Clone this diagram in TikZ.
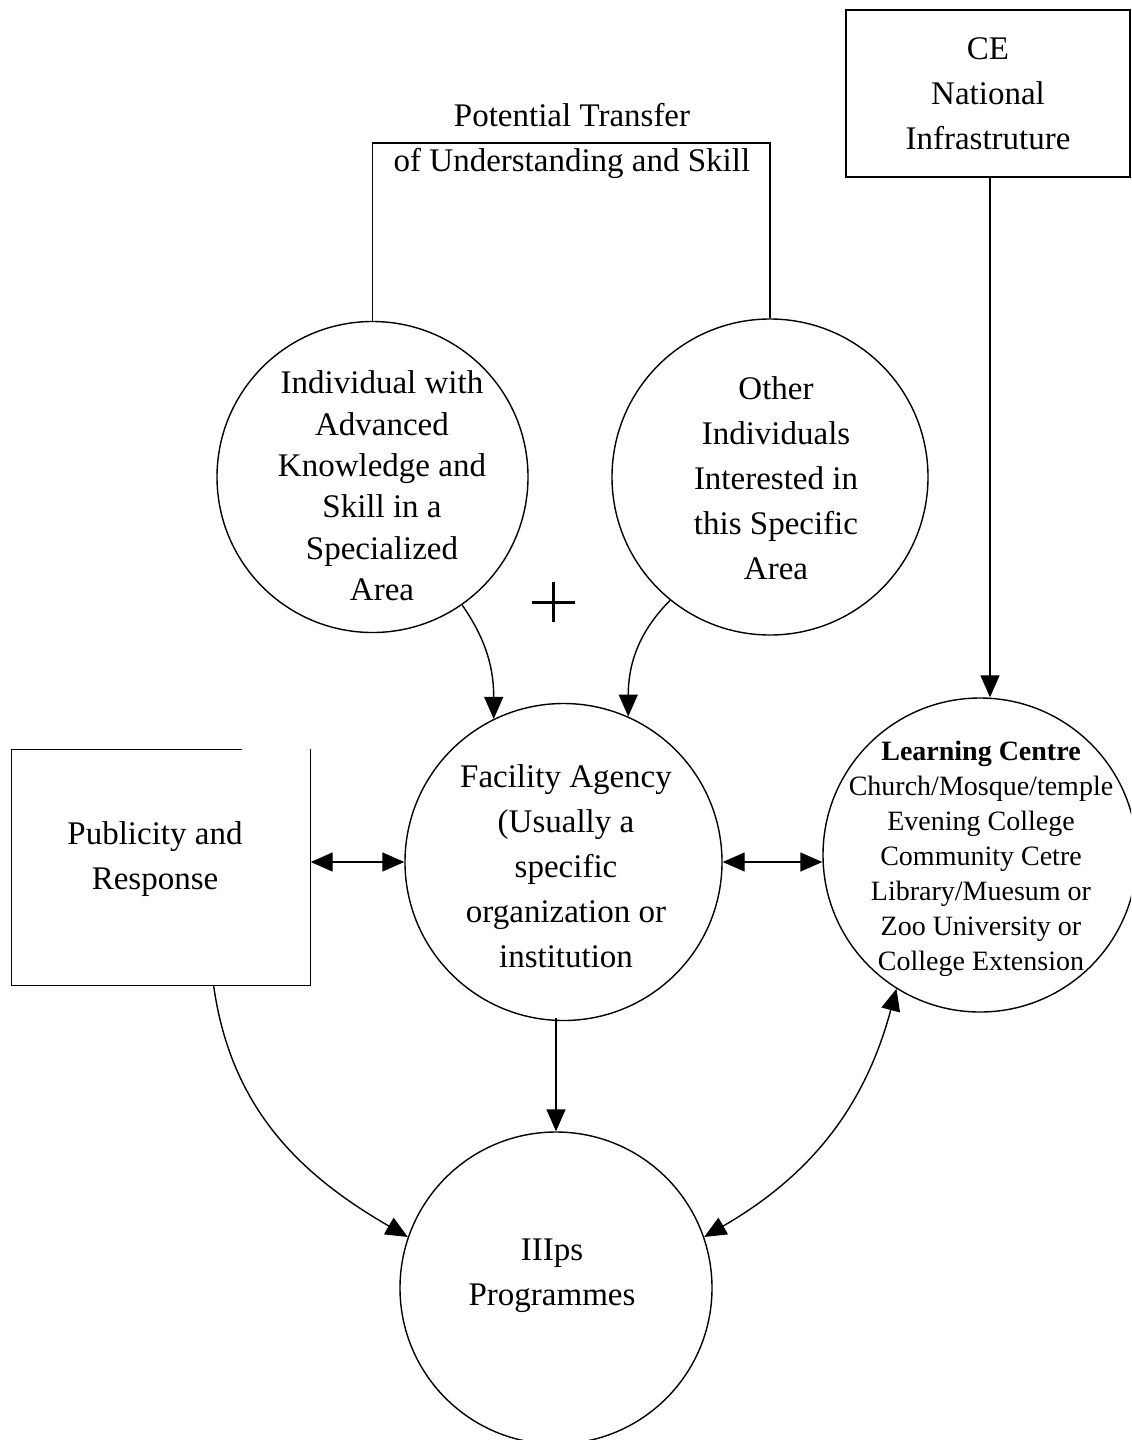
\documentclass[tikz,border=0pt]{standalone}
\usepackage{fontspec}
\setmainfont{Liberation Serif}
\usetikzlibrary{arrows.meta}
\begin{document}
\begin{tikzpicture}[x=0.5pt,y=-0.5pt,
  line width=0.7pt,
  circ/.style={circle,draw,inner sep=0pt},
  txt/.style={align=center,font=\fontsize{16.5}{22.5}\selectfont},
  box/.style={rectangle,draw,inner sep=0pt},
  tip/.tip={Triangle[length=11pt,width=9.5pt]},
  arr/.style={-{tip}},
  darr/.style={{tip}-{tip}}]
\clip (0,0) rectangle (1131,1440);

% boxes
\node[box,minimum width=142pt,minimum height=83.5pt,txt] (ce) at (988,93.5)
  {CE\\National\\Infrastruture};
\node[rectangle,minimum width=149pt,minimum height=117.5pt,inner sep=0pt] (pub) at (161,867.5) {};
\draw ([xshift=115.5pt]pub.north west) -- (pub.north west) -- (pub.south west)
  -- (pub.south east) -- (pub.north east);
\node[txt] (pubt) at (155,859) {Publicity and\\Response};

% circles
\node[circ,minimum size=155.5pt] (indiv) at (372.5,477) {};
\node[txt,font=\fontsize{16.5}{20.7}\selectfont] (indivt) at (382,486)
  {Individual with\\Advanced\\Knowledge and\\Skill in a\\Specialized\\Area};
\node[circ,minimum size=158pt] (other) at (770,477) {};
\node[txt] (othert) at (776,478)
  {Other\\Individuals\\Interested in\\this Specific\\Area};
\node[circ,minimum size=158.5pt] (fac) at (563.5,862) {};
\node[txt] (fact) at (566,866)
  {Facility Agency\\(Usually a\\specific\\organization or\\institution};
\node[circ,minimum size=157pt] (learn) at (980,855) {};
\node[align=center,font=\fontsize{14}{17.5}\selectfont] (learnt) at (981,859)
  {\textbf{Learning Centre}\\Church/Mosque/temple\\Evening College\\Community Cetre\\Library/Muesum or\\Zoo University or\\College Extension};
\node[circ,minimum size=156pt] (iiips) at (556,1288) {};
\node[txt] (iiipst) at (552,1276) {IIIps\\Programmes};

% transfer bracket between the two individuals
\node[txt] (transfer) at (572,141) {Potential Transfer\\of Understanding and Skill};
\coordinate (bar) at (572,143);
\draw (indiv.north) -- (indiv.north |- bar) -- (other.north |- bar) -- (other.north);

% plus sign
\draw[line width=1.5pt] (532,602) -- (575,602) (553,582) -- (553,622);

% connectors
\draw[arr] (indiv.-55) to[out=-55,in=90] (fac.116);
\draw[arr] (other.231) to[out=225,in=90] (fac.66);
\draw[arr] ([xshift=1pt]ce.south) -- ([xshift=1pt]ce.south |- learn.north);
\draw[darr] (fac.west -| pub.east) -- (fac.west);
\draw[darr] (fac.east) -- (fac.east -| learn.west);
\draw[arr] (iiips.north |- 0,1018) -- (iiips.north);
\draw[arr] (pub.-66) to[out=-82,in=150] (iiips.161);
\draw[darr] (learn.-122) to[out=-105,in=30] (iiips.19);
\end{tikzpicture}
\end{document}
